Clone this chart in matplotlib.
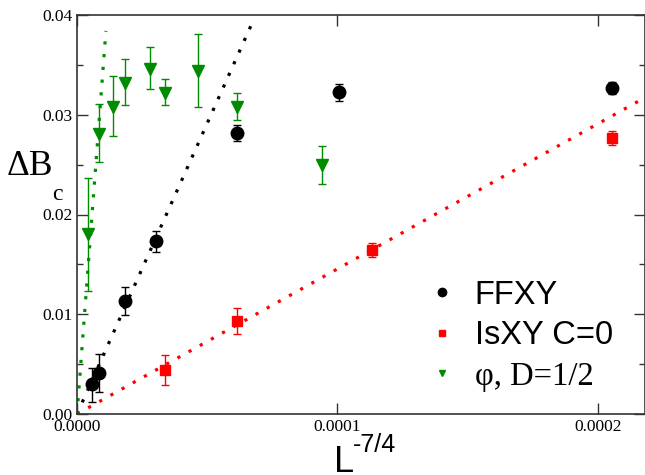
import matplotlib
matplotlib.use("Agg")
import matplotlib.pyplot as plt
import numpy as np
from matplotlib.ticker import MultipleLocator, FixedLocator
from matplotlib.lines import Line2D

# ---- data ----
ffxy_x = [5.64e-6, 8.45e-6, 1.83e-5, 3.02e-5, 6.13e-5, 1.005e-4, 2.053e-4]
ffxy_y = [0.0030, 0.0041, 0.0113, 0.0173, 0.0282, 0.0323, 0.0327]
ffxy_lo = [0.0018, 0.0019, 0.0014, 0.0011, 0.0008, 0.0009, 0.0006]
ffxy_hi = [0.0016, 0.0019, 0.0014, 0.0010, 0.0008, 0.0008, 0.0006]

isxy_x = [3.38e-5, 6.13e-5, 1.132e-4, 2.053e-4]
isxy_y = [0.0044, 0.0093, 0.0164, 0.0277]
isxy_lo = [0.0015, 0.0013, 0.0007, 0.0007]
isxy_hi = [0.0015, 0.0013, 0.0007, 0.0007]

phi_x = [4.34e-6, 8.45e-6, 1.39e-5, 1.84e-5, 2.80e-5, 3.39e-5, 4.63e-5, 6.13e-5, 9.42e-5]
phi_y = [0.0180, 0.0281, 0.0308, 0.0332, 0.0346, 0.0322, 0.0344, 0.0308, 0.0250]
phi_lo = [0.0057, 0.0028, 0.0029, 0.0022, 0.0020, 0.0012, 0.0036, 0.0013, 0.0019]
phi_hi = [0.0057, 0.0030, 0.0031, 0.0024, 0.0022, 0.0014, 0.0037, 0.0014, 0.0019]

# linear fits through origin: slope, x end
ffxy_fit = (583.0, 6.8e-5)
isxy_fit = (145.5, 2.2e-4)
phi_fit = (3460.0, 1.11e-5)

xticks = [0.0, 0.0001, 0.0002]
xtick_labels = ["0.0000", "0.0001", "0.0002"]
yticks = [0.00, 0.01, 0.02, 0.03, 0.04]
ytick_labels = ["0.00", "0.01", "0.02", "0.03", "0.04"]
legend_labels = ["FFXY", "IsXY C=0", "\u03c6, D=1/2"]

black = "#000000"
red = "#ff0000"
green = "#008c00"

W, H = 645, 475
fig = plt.figure(figsize=(W/100, H/100), dpi=100)
ax = fig.add_axes([77/W, 1-414/H, (W-77)/W, (414-15)/H])

dotted = (0, (1, 3))
for (s, xe), c in [(ffxy_fit, black), (isxy_fit, red), (phi_fit, green)]:
    xs = np.array([0.0, xe])
    ax.plot(xs, s*xs, color=c, lw=2.3, linestyle=dotted, zorder=1)

ax.errorbar(ffxy_x, ffxy_y, yerr=[ffxy_lo, ffxy_hi], fmt="o", color=black,
            ms=9, capsize=3, elinewidth=1.0, capthick=1.0, zorder=3)
ax.errorbar(isxy_x, isxy_y, yerr=[isxy_lo, isxy_hi], fmt="s", color=red,
            ms=7, capsize=3, elinewidth=1.0, capthick=1.0, zorder=3)
ax.errorbar(phi_x, phi_y, yerr=[phi_lo, phi_hi], fmt="v", color=green,
            ms=9, capsize=3, elinewidth=1.0, capthick=1.0, zorder=3)

ax.set_xlim(0, (W-77)/260.5*1e-4)
ax.set_ylim(0, 0.04)
ax.xaxis.set_major_locator(FixedLocator(xticks))
ax.set_xticklabels(xtick_labels)
ax.yaxis.set_major_locator(FixedLocator(yticks))
ax.set_yticklabels(ytick_labels)
ax.yaxis.set_minor_locator(MultipleLocator(0.005))
ax.tick_params(which="both", direction="in", top=True, right=True, color="#333333")
ax.tick_params(which="major", length=8, width=1)
ax.tick_params(which="minor", length=4, width=1)
for lab in ax.get_xticklabels() + ax.get_yticklabels():
    lab.set_fontfamily("Liberation Serif")
    lab.set_fontsize(12.5)
for sp in ax.spines.values():
    sp.set_color("#333333")
    sp.set_linewidth(1.2)

# axis labels (placed in pixel positions like the reference)
def px(x, y):
    return x / W, 1 - y / H

fig.text(*px(334, 472), "L", fontsize=26, family="Liberation Sans",
         ha="left", va="baseline")
fig.text(*px(353, 452), "-7/4", fontsize=18, family="Liberation Sans",
         ha="left", va="baseline")
fig.text(*px(30, 175), "\u0394B", fontsize=25.5, family="Liberation Serif",
         ha="center", va="baseline")
fig.text(*px(57, 200), "c", fontsize=17, family="Liberation Serif",
         ha="center", va="baseline")

handles = [Line2D([], [], marker="o", color=black, ls="", ms=6),
           Line2D([], [], marker="s", color=red, ls="", ms=5),
           Line2D([], [], marker="v", color=green, ls="", ms=5)]
leg = ax.legend(handles, legend_labels, loc="lower right",
                bbox_to_anchor=(0.972, 0.015), frameon=False,
                handletextpad=0.5, handlelength=1.0, labelspacing=0.3,
                borderpad=0, prop={"family": "Liberation Sans", "size": 23.5})
texts = leg.get_texts()
texts[2].set_fontfamily("Liberation Serif")
texts[2].set_fontsize(23.5)

fig.savefig("out.png", dpi=100)
